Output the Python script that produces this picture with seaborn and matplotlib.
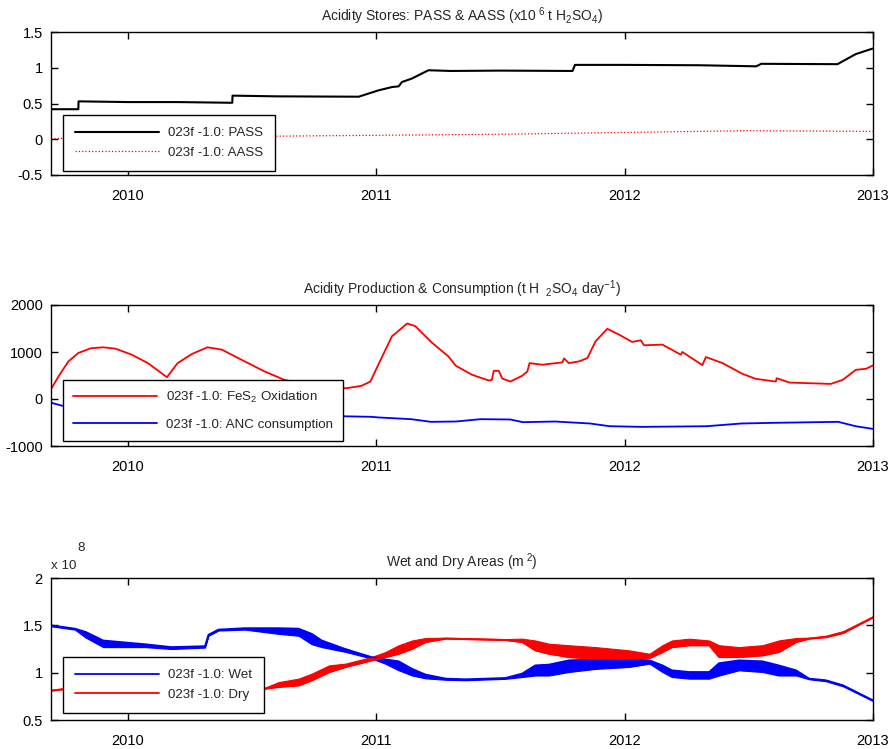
import numpy as np
import pandas as pd
import seaborn as sns
import matplotlib
matplotlib.use("Agg")
import matplotlib.pyplot as plt
from matplotlib.ticker import FuncFormatter, FixedLocator

# ---- Acidity stores (x10^6 t H2SO4) ----
pass_t = [2009.69, 2009.80, 2009.801, 2010.0, 2010.2, 2010.42, 2010.421, 2010.6,
          2010.929, 2011.009, 2011.063, 2011.09, 2011.103, 2011.144, 2011.17,
          2011.21, 2011.3, 2011.5, 2011.79, 2011.80, 2012.0, 2012.3, 2012.53,
          2012.55, 2012.857, 2012.93, 2013.0]
pass_v = [0.42, 0.42, 0.53, 0.52, 0.52, 0.51, 0.61, 0.60,
          0.595, 0.684, 0.73, 0.74, 0.80, 0.85, 0.896,
          0.965, 0.955, 0.96, 0.955, 1.04, 1.04, 1.035, 1.02,
          1.055, 1.05, 1.19, 1.27]
aass_t = [2009.69, 2010.0, 2010.5, 2011.0, 2011.5, 2012.0, 2012.5, 2013.0]
aass_v = [0.01, 0.025, 0.04, 0.055, 0.07, 0.095, 0.12, 0.11]

# ---- Acidity production & consumption (t H2SO4 / day) ----
fes2_t = [2009.69, 2009.72, 2009.76, 2009.80, 2009.85, 2009.90, 2009.95, 2010.015,
          2010.08, 2010.157, 2010.20, 2010.257, 2010.32, 2010.378, 2010.47, 2010.55,
          2010.63, 2010.72, 2010.80, 2010.88, 2010.94, 2010.976, 2011.008, 2011.063,
          2011.08, 2011.124, 2011.157, 2011.225, 2011.29, 2011.32, 2011.386, 2011.453,
          2011.465, 2011.473, 2011.493, 2011.507, 2011.54, 2011.587, 2011.608, 2011.617,
          2011.668, 2011.749, 2011.756, 2011.775, 2011.816, 2011.85, 2011.883, 2011.93,
          2011.977, 2012.03, 2012.065, 2012.078, 2012.152, 2012.226, 2012.232, 2012.313,
          2012.327, 2012.394, 2012.474, 2012.528, 2012.609, 2012.612, 2012.663, 2012.743,
          2012.83, 2012.878, 2012.931, 2012.972, 2013.0]
fes2_v = [207, 479, 800, 979, 1079, 1100, 1071, 943,
          764, 464, 764, 957, 1100, 1050, 800, 586,
          407, 300, 240, 230, 280, 371, 729, 1336,
          1407, 1607, 1550, 1193, 907, 707, 514, 393,
          407, 600, 600, 436, 371, 493, 586, 764,
          729, 779, 864, 764, 800, 871, 1229, 1493,
          1371, 1214, 1250, 1143, 1157, 943, 1000, 721,
          893, 764, 536, 429, 371, 443, 350, 336,
          321, 407, 621, 643, 714]
anc_t = [2009.69, 2009.74, 2010.0, 2010.5, 2010.98, 2011.01, 2011.14, 2011.22, 2011.32,
         2011.42, 2011.54, 2011.59, 2011.72, 2011.86, 2011.94, 2012.07, 2012.33, 2012.47,
         2012.6, 2012.86, 2012.93, 2013.0]
anc_v = [-79, -150, -250, -330, -379, -393, -429, -486, -479,
         -429, -436, -493, -479, -521, -579, -593, -579, -521,
         -507, -486, -579, -636]

# ---- Wet and dry areas (x10^8 m^2), daily range as upper / lower envelope ----
wet_t = [2009.69, 2009.786, 2009.83, 2009.90, 2010.07, 2010.176, 2010.31, 2010.324,
         2010.364, 2010.47, 2010.606, 2010.687, 2010.74, 2010.78, 2010.875, 2010.98,
         2011.036, 2011.09, 2011.144, 2011.198, 2011.28, 2011.36, 2011.52, 2011.587,
         2011.64, 2011.695, 2011.775, 2011.883, 2012.017, 2012.1, 2012.152, 2012.19,
         2012.26, 2012.34, 2012.38, 2012.46, 2012.555, 2012.62, 2012.69, 2012.743,
         2012.81, 2012.88, 2013.0]
wet_hi = [1.50, 1.465, 1.43, 1.34, 1.30, 1.27, 1.28, 1.40,
          1.455, 1.47, 1.47, 1.465, 1.41, 1.34, 1.25, 1.165,
          1.14, 1.12, 1.04, 0.98, 0.937, 0.93, 0.944, 0.99,
          1.077, 1.085, 1.13, 1.14, 1.14, 1.13, 1.077, 1.025,
          1.007, 1.007, 1.10, 1.13, 1.12, 1.077, 1.025, 0.937,
          0.92, 0.866, 0.708]
wet_lo = [1.49, 1.455, 1.37, 1.27, 1.27, 1.25, 1.265, 1.39,
          1.445, 1.455, 1.41, 1.39, 1.30, 1.27, 1.22, 1.15,
          1.095, 1.025, 0.97, 0.94, 0.925, 0.92, 0.935, 0.954,
          0.97, 0.97, 1.007, 1.04, 1.06, 1.095, 1.007, 0.954,
          0.937, 0.937, 0.97, 1.025, 1.007, 0.97, 0.97, 0.93,
          0.91, 0.855, 0.70]
dry_t = [2009.69, 2009.74, 2009.786, 2009.83, 2009.90, 2010.07, 2010.176, 2010.31,
         2010.324, 2010.364, 2010.47, 2010.55, 2010.606, 2010.687, 2010.74, 2010.81,
         2010.875, 2010.98, 2011.036, 2011.09, 2011.144, 2011.198, 2011.28, 2011.36,
         2011.52, 2011.587, 2011.64, 2011.695, 2011.775, 2011.883, 2012.017, 2012.1,
         2012.152, 2012.19, 2012.26, 2012.34, 2012.38, 2012.46, 2012.555, 2012.62,
         2012.69, 2012.743, 2012.81, 2012.88, 2013.0]
dry_hi = [0.82, 0.835, 0.845, 0.93, 1.03, 1.03, 1.05, 1.035,
          0.91, 0.855, 0.845, 0.84, 0.90, 0.937, 0.99, 1.077,
          1.095, 1.165, 1.218, 1.29, 1.34, 1.366, 1.37, 1.365,
          1.355, 1.359, 1.34, 1.306, 1.29, 1.27, 1.236, 1.20,
          1.29, 1.34, 1.359, 1.34, 1.29, 1.27, 1.29, 1.34,
          1.366, 1.37, 1.39, 1.44, 1.595]
dry_lo = [0.81, 0.825, 0.835, 0.87, 0.96, 1.00, 1.03, 1.02,
          0.90, 0.845, 0.835, 0.83, 0.85, 0.866, 0.92, 1.007,
          1.06, 1.13, 1.165, 1.20, 1.253, 1.324, 1.36, 1.355,
          1.345, 1.324, 1.236, 1.20, 1.165, 1.148, 1.148, 1.155,
          1.218, 1.27, 1.29, 1.29, 1.165, 1.165, 1.183, 1.218,
          1.324, 1.36, 1.375, 1.42, 1.585]

year_ticks = [2010, 2011, 2012, 2013]
label_prefix = "023f -1.0: "

sns.set_theme(style="white")
FONT = ["Liberation Sans", "DejaVu Sans"]
plt.rcParams["font.family"] = FONT
plt.rcParams["mathtext.fontset"] = "custom"
plt.rcParams["mathtext.rm"] = "Liberation Sans"
plt.rcParams["mathtext.it"] = "Liberation Sans"
plt.rcParams["mathtext.default"] = "regular"
plt.rcParams["axes.unicode_minus"] = False

FS = 9.6       # legend text
FS_TICK = 10.5  # tick labels
FS_TITLE = 10.0
fig = plt.figure(figsize=(8.89, 7.49), dpi=100)
fig.patch.set_facecolor("white")

L, W = 51 / 889, 822 / 889
ax1 = fig.add_axes([L, 1 - 175 / 749, W, 143 / 749])
ax2 = fig.add_axes([L, 1 - 446 / 749, W, 141 / 749])
ax3 = fig.add_axes([L, 1 - 720 / 749, W, 142 / 749])


def style_axis(ax, yticks):
    ax.set_xlim(2009.69, 2013.0)
    ax.set_ylim(yticks[0], yticks[-1])
    ax.xaxis.set_major_locator(FixedLocator(year_ticks))
    ax.xaxis.set_major_formatter(FuncFormatter(lambda v, p: f"{int(round(v))}"))
    ax.yaxis.set_major_locator(FixedLocator(yticks))
    ax.yaxis.set_major_formatter(FuncFormatter(lambda v, p: f"{v:g}"))
    ax.tick_params(direction="in", length=5, width=1, colors="black",
                   labelsize=FS_TICK, top=True, right=True, bottom=True, left=True,
                   pad=6)
    ax.tick_params(axis="x", pad=10)
    for s in ax.spines.values():
        s.set_color("black")
        s.set_linewidth(1.0)
        s.set_visible(True)
    ax.set_xlabel("")
    ax.set_ylabel("")
    ax.set_facecolor("white")


def add_legend(ax, top, spacing, pad=0.9):
    leg = ax.legend(loc="upper left", bbox_to_anchor=(12 / 822, top),
                    fontsize=FS, frameon=True, fancybox=False, framealpha=1,
                    edgecolor="black", handlelength=6.3, handletextpad=0.7,
                    borderpad=pad, labelspacing=spacing, borderaxespad=0)
    leg.get_frame().set_linewidth(1.0)
    leg.set_zorder(10)
    return leg


# Panel 1: acidity stores
sns.lineplot(x=pass_t, y=pass_v, ax=ax1, color="black", lw=1.5,
             estimator=None, sort=False, label=label_prefix + "PASS")
sns.lineplot(x=aass_t, y=aass_v, ax=ax1, color="red", lw=0.9, ls=":",
             estimator=None, sort=False, label=label_prefix + "AASS")
style_axis(ax1, [-0.5, 0, 0.5, 1, 1.5])
ax1.set_title("Acidity Stores: PASS & AASS (x10$^{\\ 6}$ t H$_2$SO$_4$)",
              fontsize=FS_TITLE, pad=8)
add_legend(ax1, 60 / 143, 0.55)

# Panel 2: acidity production and consumption
sns.lineplot(x=fes2_t, y=fes2_v, ax=ax2, color="red", lw=1.3,
             estimator=None, sort=False, label=label_prefix + "FeS$_2$ Oxidation")
sns.lineplot(x=anc_t, y=anc_v, ax=ax2, color="blue", lw=1.3,
             estimator=None, sort=False, label=label_prefix + "ANC consumption")
style_axis(ax2, [-1000, 0, 1000, 2000])
ax2.set_title("Acidity Production & Consumption (t H $_{\\ 2}$SO$_4$ day$^{-1}$)",
              fontsize=FS_TITLE, pad=8)
add_legend(ax2, 66 / 141, 1.0, pad=0.75)

# Panel 3: wet and dry areas
ax3.fill_between(wet_t, wet_lo, wet_hi, color="blue", lw=0.8, edgecolor="blue")
sns.lineplot(x=wet_t, y=wet_hi, ax=ax3, color="blue", lw=1.3,
             estimator=None, sort=False, label=label_prefix + "Wet")
ax3.fill_between(dry_t, dry_lo, dry_hi, color="red", lw=0.8, edgecolor="red")
sns.lineplot(x=dry_t, y=dry_lo, ax=ax3, color="red", lw=1.3,
             estimator=None, sort=False, label=label_prefix + "Dry")
style_axis(ax3, [0.5, 1, 1.5, 2])
ax3.set_title("Wet and Dry Areas (m$^{\\ 2}$)", fontsize=FS_TITLE, pad=8)
add_legend(ax3, 63 / 142, 0.55)
ax3.text(0.0, 1.04, "x 10", transform=ax3.transAxes, fontsize=FS,
         ha="left", va="bottom")
ax3.text(26 / 822, 1.17, "8", transform=ax3.transAxes, fontsize=FS,
         ha="left", va="bottom")

fig.savefig("out.png", dpi=100, facecolor="white")
